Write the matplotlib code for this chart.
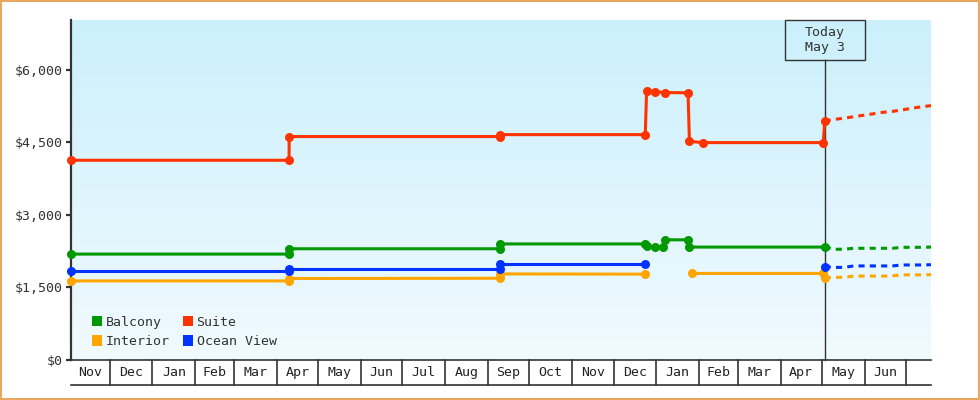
import numpy as np
import pandas as pd
import matplotlib
matplotlib.use("Agg")
import matplotlib.pyplot as plt
import matplotlib.dates as mdates
from matplotlib.patches import Rectangle, Patch

# Observed cabin prices (NaN = no price published)
balcony_dates = ["2021-11-03", "2022-04-10", "2022-04-10", "2022-09-10", "2022-09-10",
                 "2022-12-24", "2022-12-25", "2022-12-31", "2023-01-06", "2023-01-07",
                 "2023-01-24", "2023-01-25", "2023-05-03"]
balcony_prices = [2190, 2190, 2300, 2300, 2400, 2400, 2350, 2340, 2335, 2485, 2485, 2335, 2335]

suite_dates = ["2021-11-03", "2022-04-10", "2022-04-10", "2022-09-10", "2022-09-10",
               "2022-12-24", "2022-12-25", "2022-12-31", "2023-01-07", "2023-01-24",
               "2023-01-25", "2023-02-04", "2023-05-02", "2023-05-03"]
suite_prices = [4130, 4130, 4620, 4620, 4660, 4660, 5570, 5550, 5530, 5525, 4520, 4495, 4495, 4940]

interior_dates = ["2021-11-03", "2022-04-10", "2022-04-10", "2022-09-10", "2022-09-10",
                  "2022-12-24", "2023-01-10", "2023-01-27", "2023-05-02", "2023-05-03"]
interior_prices = [1635, 1635, 1685, 1690, 1780, 1775, np.nan, 1790, 1790, 1705]

ocean_dates = ["2021-11-03", "2022-04-10", "2022-04-10", "2022-09-10", "2022-09-10",
               "2022-12-24", "2023-02-01", "2023-05-03"]
ocean_prices = [1840, 1840, 1875, 1875, 1980, 1980, np.nan, 1930]

# Forecast (dashed)
forecast_dates = ["2023-05-03", "2023-05-10", "2023-05-17", "2023-05-24", "2023-05-31",
                  "2023-06-07", "2023-06-14", "2023-06-21", "2023-06-28", "2023-07-05",
                  "2023-07-12", "2023-07-19"]
balcony_forecast = [2335, 2290, 2290, 2310, 2310, 2310, 2310, 2310, 2330, 2330, 2330, 2335]
suite_forecast = [4940, 4975, 5000, 5030, 5060, 5090, 5120, 5140, 5170, 5205, 5235, 5260]
interior_forecast = [1705, 1710, 1710, 1735, 1735, 1735, 1735, 1740, 1760, 1760, 1760, 1765]
ocean_forecast = [1930, 1915, 1915, 1945, 1945, 1945, 1945, 1945, 1965, 1965, 1965, 1970]

month_labels = ["Nov", "Dec", "Jan", "Feb", "Mar", "Apr", "May", "Jun", "Jul", "Aug",
                "Sep", "Oct", "Nov", "Dec", "Jan", "Feb", "Mar", "Apr", "May", "Jun", ""]
y_ticks = [0, 1500, 3000, 4500, 6000]
today = "2023-05-03"
today_label = "Today\nMay 3"
x_start, x_end = "2021-11-03", "2023-07-19"

colors = {
    "Balcony": "#009900",
    "Suite": "#ff3300",
    "Interior": "#ffa500",
    "Ocean View": "#0033ff",
}
ink = "#333333"

plt.rcParams["font.family"] = ["DejaVu Sans Mono"]
plt.rcParams["font.size"] = 9.5

fig = plt.figure(figsize=(9.8, 4.0), dpi=100)
ax = fig.add_axes([71 / 980, 40 / 400, 860 / 980, 340 / 400])

x0 = mdates.date2num(pd.Timestamp(x_start))
x1 = mdates.date2num(pd.Timestamp(x_end))
ax.set_xlim(x0, x1)
ax.set_ylim(0, 7030)

# gradient background
grad = np.linspace(0, 1, 256).reshape(-1, 1)
top = np.array([203, 240, 252]) / 255
bot = np.array([241, 250, 255]) / 255
img = top + (bot - top) * grad[..., None].repeat(1, axis=1)
ax.imshow(img, extent=[x0, x1, 0, 7030], aspect="auto", zorder=0, origin="upper")

series = [
    ("Balcony", balcony_dates, balcony_prices, balcony_forecast),
    ("Suite", suite_dates, suite_prices, suite_forecast),
    ("Interior", interior_dates, interior_prices, interior_forecast),
    ("Ocean View", ocean_dates, ocean_prices, ocean_forecast),
]

# today marker line and box
t = mdates.date2num(pd.Timestamp(today))
tx = (t - x0) / (x1 - x0)
box_h = 40 / 340
box_w = 80 / 860
ax.plot([t, t], [0, 1 - box_h], transform=ax.get_xaxis_transform(),
        color=ink, lw=1.0, zorder=2, clip_on=False)
ax.add_patch(Rectangle((tx - box_w / 2, 1 - box_h), box_w, box_h, transform=ax.transAxes,
                       facecolor="none", edgecolor=ink, lw=1.0, zorder=2, clip_on=False))
ax.text(tx, 1 - box_h / 2, today_label, transform=ax.transAxes, ha="center", va="center",
        color=ink, linespacing=1.25, zorder=3)

for name, d, p, fc in series:
    c = colors[name]
    ax.plot(pd.to_datetime(d), p, color=c, lw=2.2, marker="o", markersize=6.5,
            markeredgewidth=0, zorder=4, clip_on=False)
    ax.plot(pd.to_datetime(forecast_dates), fc, color=c, lw=2.2, dashes=(2.0, 1.7),
            zorder=3)

# axes styling
for s in ["top", "right"]:
    ax.spines[s].set_visible(False)
ax.spines["left"].set_color(ink)
ax.spines["left"].set_linewidth(1.6)
ax.spines["bottom"].set_color(ink)
ax.spines["bottom"].set_linewidth(1.2)
ax.set_yticks(y_ticks)
ax.yaxis.set_major_formatter(plt.FuncFormatter(lambda v, pos: f"${v:,.0f}"))
ax.tick_params(axis="y", direction="out", length=3.6, width=1.6, color=ink,
               labelcolor=ink, pad=2)
ax.set_xticks([])

# month boxes under the axis
row_h = 25 / 340
month_starts = pd.date_range("2021-11-01", "2023-07-01", freq="MS")
edges = [mdates.date2num(m) for m in month_starts] + [mdates.date2num(pd.Timestamp("2023-08-01"))]
xt = ax.get_xaxis_transform()
ax.plot([x0, x1], [-row_h, -row_h], transform=xt, color=ink, lw=1.2, clip_on=False)
for i, lab in enumerate(month_labels):
    a, b = max(edges[i], x0), min(edges[i + 1], x1)
    if i > 0:
        ax.plot([edges[i], edges[i]], [0, -row_h], transform=xt, color=ink, lw=1.2,
                clip_on=False)
    ax.text((a + b) / 2, -row_h / 2, lab, transform=xt, ha="center", va="center",
            color="#222222")

# legend
handles = [Patch(facecolor=colors[n], edgecolor="none") for n in
           ["Balcony", "Interior", "Suite", "Ocean View"]]
ax.legend(handles, ["Balcony", "Interior", "Suite", "Ocean View"], ncol=2,
          loc="lower left", bbox_to_anchor=(0.024, 0.035), frameon=False,
          borderpad=0, borderaxespad=0, handlelength=0.8, handleheight=0.8,
          handletextpad=0.25, columnspacing=1.0, labelspacing=0.5,
          labelcolor=ink)

# outer frame
fig.patches.append(Rectangle((0.001, 0.002), 0.998, 0.996, transform=fig.transFigure,
                             facecolor="none", edgecolor="#e9a862", lw=1.5))

fig.savefig("out.png", dpi=100)
